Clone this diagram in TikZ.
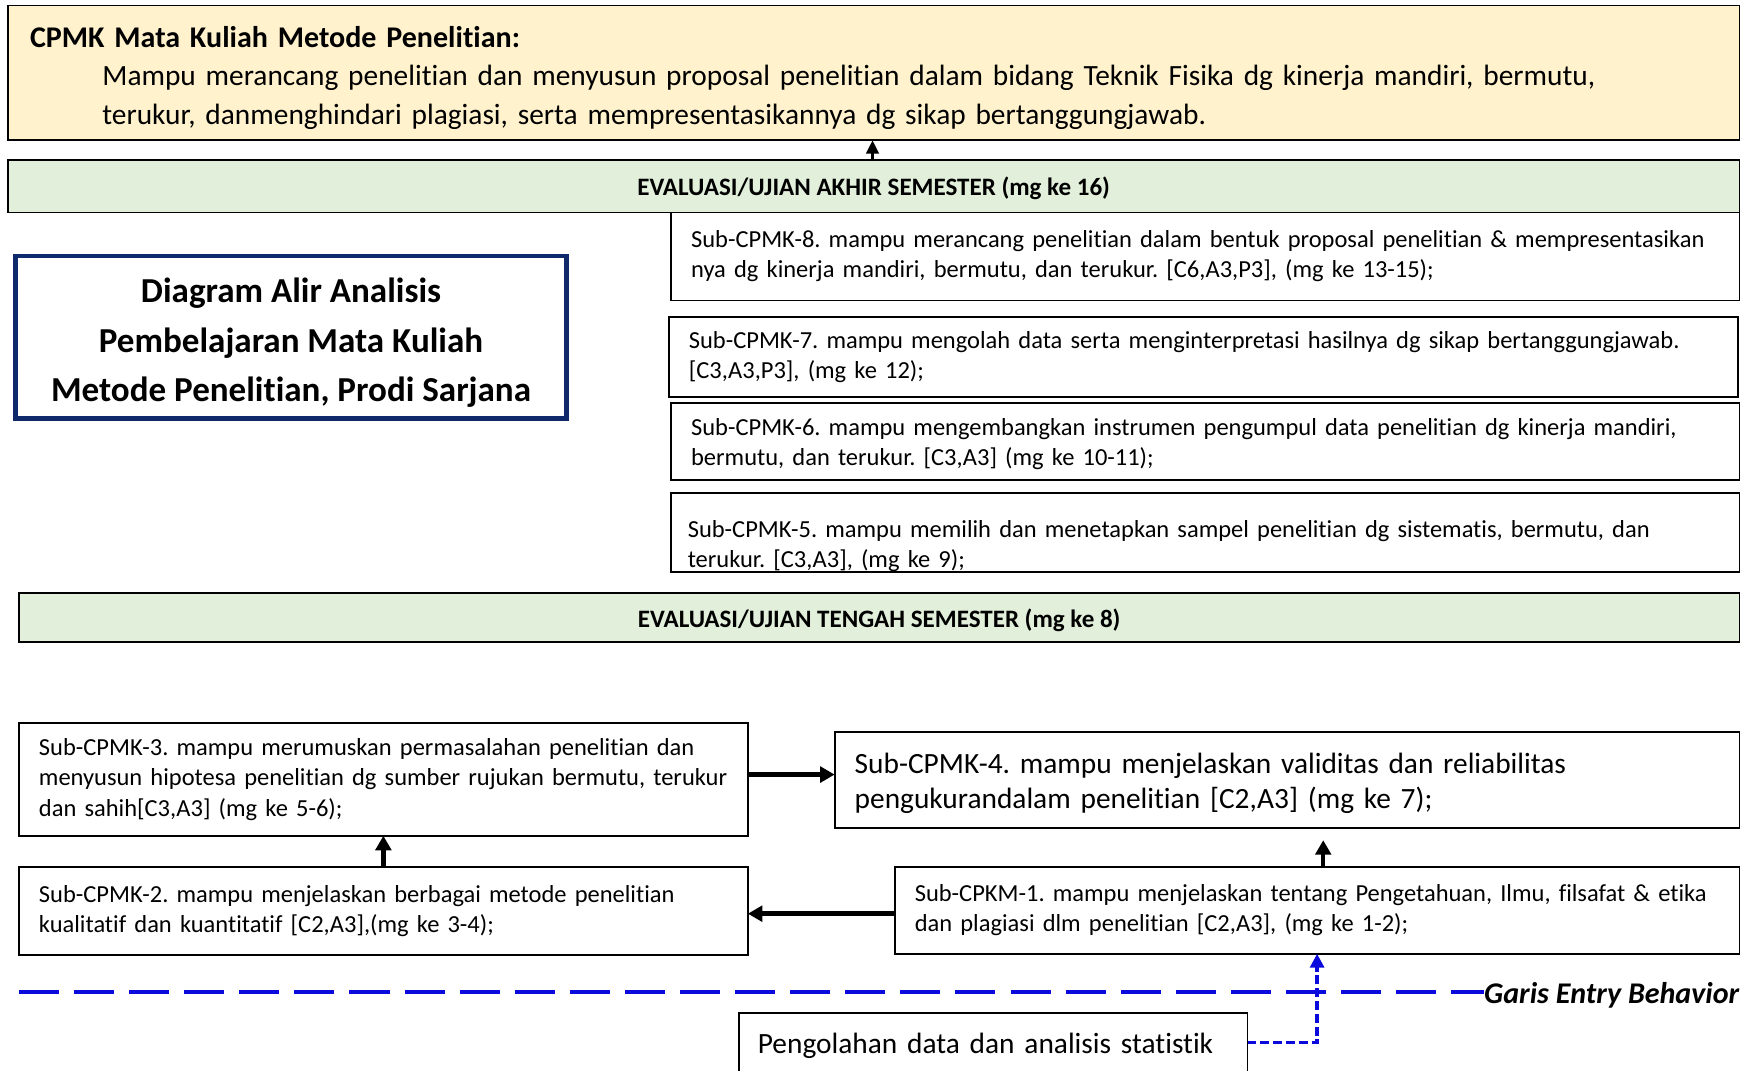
\documentclass[tikz,border=0pt]{standalone}
\usepackage{fontspec}
\setmainfont{Carlito}[Ligatures=NoCommon]
\usetikzlibrary{arrows.meta}
\definecolor{cpmkyellow}{HTML}{FFF2CC}
\definecolor{evalgreen}{HTML}{E2EFDA}
\definecolor{titlenavy}{HTML}{10296B}
\definecolor{entryblue}{HTML}{0A0ADC}
\newcommand{\ol}[1]{\mbox{#1}}
\frenchspacing
\tikzset{
  box/.style={draw=black, line width=1.6pt, anchor=north west, outer sep=0pt, inner ysep=0pt, inner xsep=18pt, align=left},
  smallfont/.style={font=\frenchspacing\fontsize{22pt}{27pt}\selectfont},
  largefont/.style={font=\frenchspacing\fontsize{26.4pt}{32pt}\selectfont},
  evalbox/.style={draw=black, line width=1.6pt, fill=evalgreen, anchor=north west, outer sep=0pt, inner sep=0pt, align=center, font=\frenchspacing\fontsize{22.5pt}{27pt}\selectfont\bfseries},
  flowarrow/.style={draw=black, line width=4pt, -{Triangle[length=13pt,width=14pt]}},
  thinarrow/.style={draw=black, line width=3pt, -{Triangle[length=12pt,width=11pt]}},
  entryline/.style={draw=entryblue, line width=3.6pt, dash pattern=on 36pt off 13.5pt},
  entryarrow/.style={draw=entryblue, line width=3pt, dash pattern=on 8pt off 3.5pt, -{Triangle[length=12.5pt,width=12.5pt]}}
}
\begin{document}
\begin{tikzpicture}[x=1pt,y=-1pt]
\useasboundingbox (0,0) rectangle (1568,962);

% top CPMK box
\node[box, fill=cpmkyellow, minimum width=1556pt, minimum height=121pt, inner xsep=20pt, text width=1516pt,
  font=\frenchspacing\fontsize{26.4pt}{35pt}\selectfont] (cpmk) at (7,5)
  {\rule{0pt}{28pt}\ol{\fontsize{27pt}{35pt}\selectfont\textbf{CPMK Mata Kuliah Metode Penelitian:}}\\
   \hspace*{65pt}\ol{Mampu merancang penelitian dan menyusun proposal penelitian dalam bidang Teknik Fisika dg kinerja mandiri, bermutu,}\\
   \hspace*{65pt}\ol{terukur, danmenghindari plagiasi, serta mempresentasikannya dg sikap bertanggungjawab.}};

% evaluation bars
\node[evalbox, minimum width=1556pt, minimum height=47pt] (uas) at (7,144) {\rule{0pt}{21pt}EVALUASI/UJIAN AKHIR SEMESTER (mg ke 16)};
\node[evalbox, minimum width=1546pt, minimum height=44pt] (uts) at (17,533) {\rule{0pt}{22pt}EVALUASI/UJIAN TENGAH SEMESTER (mg ke 8)};

% title box
\node[draw=titlenavy, line width=4pt, anchor=north west, outer sep=0pt, inner sep=0pt,
  minimum width=495pt, minimum height=146pt, align=center,
  font=\frenchspacing\fontsize{31.5pt}{44.5pt}\selectfont\bfseries] (title) at (14,230)
  {\rule{0pt}{32pt}Diagram Alir Analisis\\Pembelajaran Mata Kuliah\\Metode Penelitian, Prodi Sarjana};

% right column boxes
\node[box, smallfont, minimum width=960pt, minimum height=79pt, text width=924pt] (s8) at (603,191)
  {\ol{Sub-CPMK-8. mampu merancang penelitian dalam bentuk proposal penelitian \& mempresentasikan}\\
   \ol{nya dg kinerja mandiri, bermutu, dan terukur. [C6,A3,P3], (mg ke 13-15);}};
\node[box, smallfont, minimum width=961pt, minimum height=72pt, text width=925pt] (s7) at (601,285)
  {\ol{Sub-CPMK-7. mampu mengolah data serta menginterpretasi hasilnya dg sikap bertanggungjawab.}\\
   \ol{[C3,A3,P3], (mg ke 12);}};
\node[box, smallfont, minimum width=960pt, minimum height=69pt, text width=924pt] (s6) at (603,362)
  {\rule{0pt}{21pt}\ol{Sub-CPMK-6. mampu mengembangkan instrumen pengumpul data penelitian dg kinerja mandiri,}\\
   \ol{bermutu, dan terukur. [C3,A3] (mg ke 10-11);}};
\node[box, smallfont, minimum width=960pt, minimum height=71pt, inner xsep=15pt, text width=930pt] (s5) at (603,443)
  {\rule{0pt}{40pt}\ol{Sub-CPMK-5. mampu memilih dan menetapkan sampel penelitian dg sistematis, bermutu, dan}\\
   \ol{terukur. [C3,A3], (mg ke 9);}};

% lower boxes
\node[box, smallfont, minimum width=655pt, minimum height=101pt, text width=619pt] (s3) at (17,650)
  {\ol{Sub-CPMK-3. mampu merumuskan permasalahan penelitian dan}\\
   \ol{menyusun hipotesa penelitian dg sumber rujukan bermutu, terukur}\\
   \ol{dan sahih[C3,A3] (mg ke 5-6);}};
\node[box, largefont, minimum width=813pt, minimum height=86pt, text width=777pt] (s4) at (750,658)
  {\rule{0pt}{24pt}\ol{Sub-CPMK-4. mampu menjelaskan validitas dan reliabilitas}\\
   \ol{pengukurandalam penelitian [C2,A3] (mg ke 7);}};
\node[box, smallfont, minimum width=655pt, minimum height=79pt, text width=619pt] (s2) at (17,779)
  {\ol{Sub-CPMK-2. mampu menjelaskan berbagai metode penelitian}\\
   \ol{kualitatif dan kuantitatif [C2,A3],(mg ke 3-4);}};
\node[box, smallfont, minimum width=759pt, minimum height=78pt, text width=723pt] (s1) at (804,779)
  {\ol{Sub-CPKM-1. mampu menjelaskan tentang Pengetahuan, Ilmu, filsafat \& etika}\\
   \ol{dan plagiasi dlm penelitian [C2,A3], (mg ke 1-2);}};

% bottom box (cut by the page edge)
\node[box, largefont, minimum width=457pt, minimum height=54pt, inner xsep=17pt, text width=423pt] (stat) at (664,910)
  {\rule{0pt}{24pt}\ol{Pengolahan data dan analisis statistik}};

% entry behaviour line
\coordinate (gs) at (17,891);
\node[anchor=east, inner sep=0pt, font=\fontsize{27pt}{32pt}\selectfont\bfseries\itshape] (garis) at (1563,894) {Garis Entry Behavior};
\draw[entryline] (gs) -- (gs -| garis.west);

% connectors
\draw[thinarrow] (uas.north -| 784,0) -- (cpmk.south -| 784,0);
\draw[flowarrow] (s3.east |- 0,696) -- (s4.west |- 0,696);
\draw[flowarrow] (s2.north) -- (s3.south);
\draw[flowarrow] (s1.west |- 0,821) -- (s2.east |- 0,821);
\draw[flowarrow] (s1.north -| 1189,0) -- ([yshift=-11pt]s4.south -| 1189,0);
\draw[entryarrow] (stat.east |- 0,937) -| (s1.south);
\end{tikzpicture}
\end{document}
